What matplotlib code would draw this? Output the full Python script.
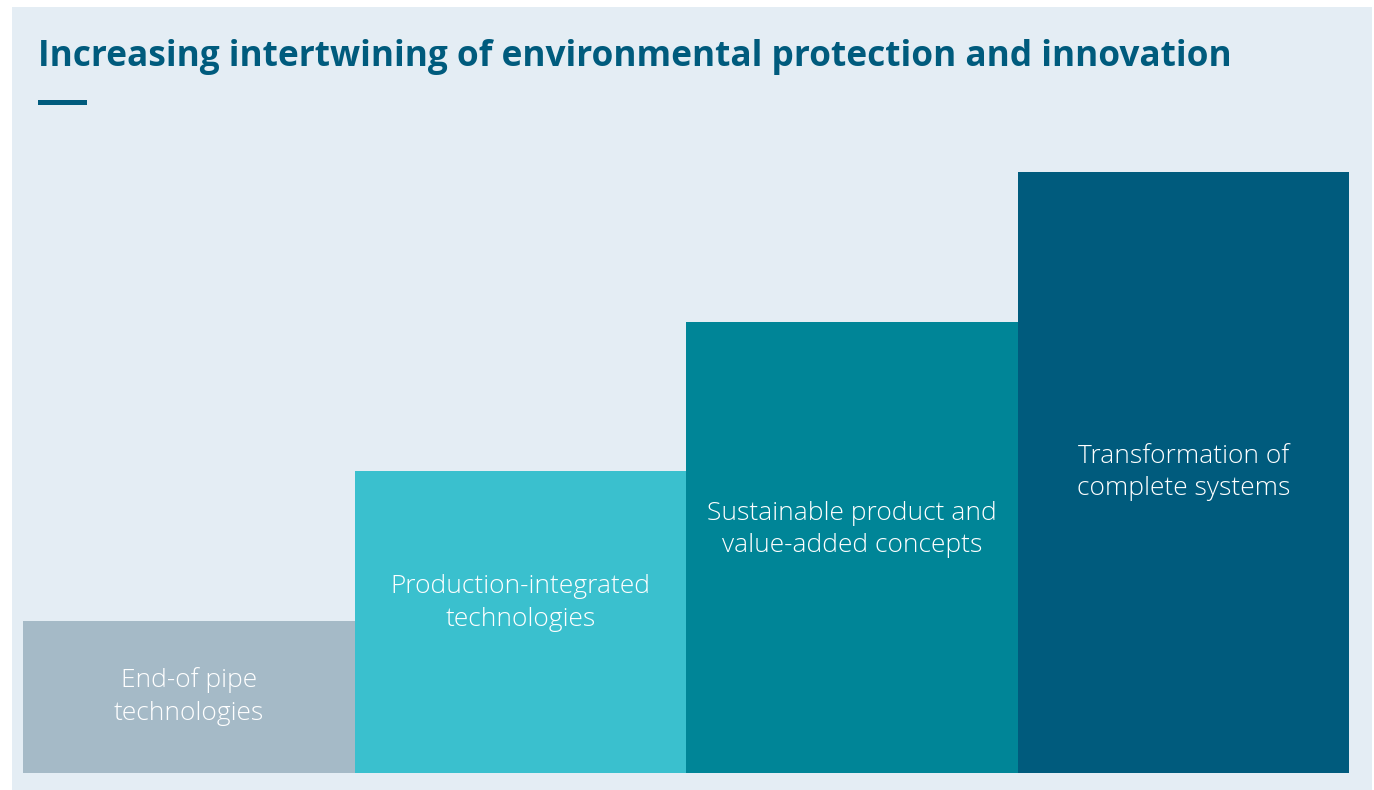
import matplotlib.pyplot as plt
from matplotlib.patches import Rectangle

# data
stages = [
    "End-of pipe\ntechnologies",
    "Production-integrated\ntechnologies",
    "Sustainable product and\nvalue-added concepts",
    "Transformation of\ncomplete systems",
]
levels = [1.01, 2.01, 3.0, 4.0]
label_y = [0.51, 1.13, 1.62, 2.0]
colors = ["#a5bac7", "#3ac0ce", "#008597", "#005b7d"]

title = "Increasing intertwining of environmental protection and innovation"
bg = "#e4edf4"
dark = "#005b7d"

W, H = 1374, 790
fig = plt.figure(figsize=(W / 100, H / 100), dpi=100)
fig.patch.set_facecolor("white")

# background panel
fig.patches.append(Rectangle((12 / W, 0), (1372 - 12) / W, (790 - 7) / H,
                             transform=fig.transFigure, facecolor=bg,
                             edgecolor="none", zorder=-5))

ax = fig.add_axes([23 / W, (790 - 773) / H, (1349 - 23) / W, (773 - 172) / H])
ax.set_zorder(2)
ax.set_facecolor("none")
ax.bar(range(len(levels)), levels, width=1.0, align="edge", color=colors,
       edgecolor="none")
for i, (txt, y) in enumerate(zip(stages, label_y)):
    ax.text(i + 0.5, y, txt, ha="center", va="center", color="white",
            fontsize=19, family="Open Sans", fontweight="light",
            linespacing=1.4)
ax.set_xlim(0, len(levels))
ax.set_ylim(0, 4.0)
ax.axis("off")

fig.text(38 / W, 1 - 57 / H, title, ha="left", va="center", color=dark,
         fontsize=25.4, family="Open Sans", fontweight="bold")
fig.patches.append(Rectangle((38 / W, 1 - 105 / H), 49 / W, 5 / H,
                             transform=fig.transFigure, facecolor=dark,
                             edgecolor="none"))

fig.savefig("out.png", dpi=100)
